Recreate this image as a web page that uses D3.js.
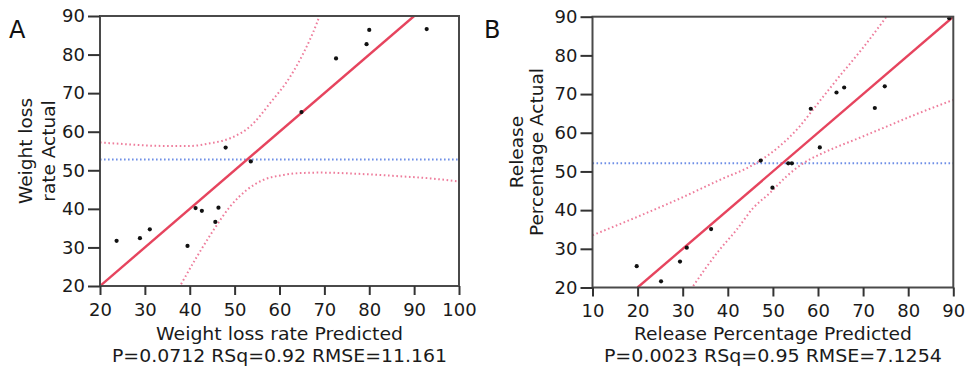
<!DOCTYPE html>
<html>
<head>
<meta charset="utf-8">
<script src="https://cdn.jsdelivr.net/npm/d3@7"></script>
<style>
  html, body { margin: 0; padding: 0; background: #fff; }
  svg { display: block; font-family: "DejaVu Sans", sans-serif; }
</style>
</head>
<body>
<svg id="chart" width="965" height="373"></svg>
<script>
// ---------- Data ----------
// Panel A: Weight loss rate
const ticksAX = [20, 30, 40, 50, 60, 70, 80, 90, 100];
const ticksAY = [20, 30, 40, 50, 60, 70, 80, 90];
const pointsA = [
  [23.7, 31.7], [28.9, 32.4], [31.1, 34.7], [39.5, 30.4], [41.3, 40.2],
  [42.7, 39.5], [45.7, 36.6], [46.4, 40.3], [48.0, 55.9], [53.6, 52.3],
  [64.9, 65.1], [72.6, 79.0], [79.4, 82.7], [80.0, 86.4], [92.8, 86.6]
];
const fitA = [[20, 20], [90, 90]];
const meanA = 52.8;
const upperA = [
  [20, 57.2], [26.7, 56.7], [31, 56.4], [35.6, 56.3], [40.1, 56.3], [44.5, 57.0],
  [49, 58.3], [53.4, 61.3], [57.9, 67.4], [62.4, 74.3], [65.3, 80.3], [68.3, 88.1], [69.2, 91]
];
const lowerA = [
  [37.6, 19.5], [41.6, 27.6], [45.3, 34.5], [49, 40.6], [52.7, 44.9], [56.4, 47.5],
  [60.9, 48.8], [65, 49.3], [69, 49.4], [77.2, 49.1], [86.1, 48.5], [93.6, 47.9], [100, 47.1]
];
const titleAX = "Weight loss rate Predicted";
const titleAY = ["Weight loss", "rate Actual"];
const statsA = "P=0.0712 RSq=0.92 RMSE=11.161";

// Panel B: Release percentage
const ticksBX = [10, 20, 30, 40, 50, 60, 70, 80, 90];
const ticksBY = [20, 30, 40, 50, 60, 70, 80, 90];
const pointsB = [
  [19.8, 25.5], [25.2, 21.6], [29.4, 26.7], [30.9, 30.3], [36.3, 35.1],
  [47.3, 52.8], [49.9, 45.8], [53.4, 52.1], [54.2, 52.1], [58.4, 66.2],
  [60.4, 56.2], [64.1, 70.4], [65.8, 71.7], [72.6, 66.4], [74.8, 72.0], [89.1, 89.6]
];
const fitB = [[20, 20], [90, 90]];
const meanB = 52.1;
const upperB = [
  [10, 33.5], [20, 38.3], [28.6, 42.6], [38.2, 47.8], [45.6, 51.7], [49.3, 54.5],
  [53, 58.1], [55.9, 61.6], [58.9, 66], [64, 73.5], [70, 82], [75.5, 90.5]
];
const lowerB = [
  [31.8, 19.5], [38, 29.5], [42, 35], [45.6, 40.5], [49.3, 44.4], [53, 48.7],
  [56.7, 52.1], [60.4, 54.4], [64.1, 56.3], [68.6, 58.4], [75, 61.5], [82, 64.9], [90, 68.5]
];
const titleBX = "Release Percentage Predicted";
const titleBY = ["Release", "Percentage Actual"];
const statsB = "P=0.0023 RSq=0.95 RMSE=7.1254";

// ---------- Drawing ----------
const svg = d3.select("#chart");
const FONT = 18;
const INK = "#1a1a1a";

function panel(cfg) {
  const x = d3.scaleLinear().domain(cfg.xDomain).range([cfg.left, cfg.right]);
  const y = d3.scaleLinear().domain(cfg.yDomain).range([cfg.bottom, cfg.top]);
  const g = svg.append("g");
  const clipId = "clip" + cfg.id;
  svg.append("clipPath").attr("id", clipId)
    .append("rect").attr("x", cfg.left).attr("y", cfg.top)
    .attr("width", cfg.right - cfg.left).attr("height", cfg.bottom - cfg.top);

  const plot = g.append("g").attr("clip-path", `url(#${clipId})`);
  const line = d3.line().x(d => x(d[0])).y(d => y(d[1]));
  const smooth = d3.line().x(d => x(d[0])).y(d => y(d[1])).curve(d3.curveMonotoneX);

  // mean line
  plot.append("line")
    .attr("x1", x(cfg.xDomain[0])).attr("x2", x(cfg.xDomain[1]))
    .attr("y1", y(cfg.mean)).attr("y2", y(cfg.mean))
    .attr("stroke", "#6f8fe6").attr("stroke-width", 2)
    .attr("stroke-dasharray", "1.6,2.4");
  // confidence curves
  [cfg.upper, cfg.lower].forEach(c => {
    plot.append("path").attr("d", smooth(c))
      .attr("fill", "none").attr("stroke", "#ee7d9c").attr("stroke-width", 2)
      .attr("stroke-dasharray", "1.6,2.6");
  });
  // fit line
  plot.append("path").attr("d", line(cfg.fit))
    .attr("fill", "none").attr("stroke", "#e6445e").attr("stroke-width", 2.4);
  // points
  plot.selectAll("circle").data(cfg.points).enter().append("circle")
    .attr("cx", d => x(d[0])).attr("cy", d => y(d[1])).attr("r", 2.1)
    .attr("fill", "#111");

  // frame
  g.append("rect")
    .attr("x", cfg.left).attr("y", cfg.top)
    .attr("width", cfg.right - cfg.left).attr("height", cfg.bottom - cfg.top)
    .attr("fill", "none").attr("stroke", "#4a4a4a").attr("stroke-width", 2);

  // axes
  const ax = g.append("g").attr("transform", `translate(0,${cfg.bottom})`)
    .call(d3.axisBottom(x).tickValues(cfg.xTicks).tickSize(9).tickPadding(8).tickSizeOuter(0));
  const ay = g.append("g").attr("transform", `translate(${cfg.left},0)`)
    .call(d3.axisLeft(y).tickValues(cfg.yTicks).tickSize(12).tickPadding(3).tickSizeOuter(0));
  [ax, ay].forEach(a => {
    a.select(".domain").remove();
    a.selectAll("line").attr("stroke", "#333").attr("stroke-width", 2);
    a.selectAll("text").attr("font-size", FONT).attr("fill", INK)
      .attr("font-family", "DejaVu Sans, sans-serif");
  });

  // titles
  const cx = (cfg.left + cfg.right) / 2;
  g.append("text").attr("x", cx).attr("y", 339.5).attr("text-anchor", "middle")
    .attr("font-size", 17.5).attr("fill", INK)
    .attr("textLength", cfg.titleXLen).attr("lengthAdjust", "spacingAndGlyphs")
    .text(cfg.titleX);
  g.append("text").attr("x", cx).attr("y", 361.5).attr("text-anchor", "middle")
    .attr("font-size", 17.5).attr("fill", INK)
    .attr("textLength", cfg.statsLen).attr("lengthAdjust", "spacingAndGlyphs")
    .text(cfg.stats);
  const cy = (cfg.top + cfg.bottom) / 2;
  cfg.titleY.forEach((t, i) => {
    g.append("text")
      .attr("transform", `translate(${cfg.yTitleX[i]},${cy}) rotate(-90)`)
      .attr("text-anchor", "middle").attr("font-size", 18.5).attr("fill", INK)
      .text(t);
  });
  // panel letter
  g.append("text").attr("x", cfg.letterX).attr("y", 38)
    .attr("font-size", 24).attr("fill", "#111").text(cfg.letter);
}

panel({
  id: "A", letter: "A", letterX: 9,
  xDomain: [20, 100], yDomain: [20, 90],
  left: 100, right: 459, top: 16, bottom: 286,
  xTicks: ticksAX, yTicks: ticksAY,
  points: pointsA, fit: fitA, mean: meanA, upper: upperA, lower: lowerA,
  titleX: titleAX, titleY: titleAY, stats: statsA, yTitleX: [32, 54.5],
  titleXLen: 247, statsLen: 335
});
panel({
  id: "B", letter: "B", letterX: 484,
  xDomain: [10, 90], yDomain: [20, 90],
  left: 592.5, right: 953.3, top: 16.7, bottom: 287.5,
  xTicks: ticksBX, yTicks: ticksBY,
  points: pointsB, fit: fitB, mean: meanB, upper: upperB, lower: lowerB,
  titleX: titleBX, titleY: titleBY, stats: statsB, yTitleX: [522.5, 543],
  titleXLen: 278, statsLen: 338
});
</script>
</body>
</html>
